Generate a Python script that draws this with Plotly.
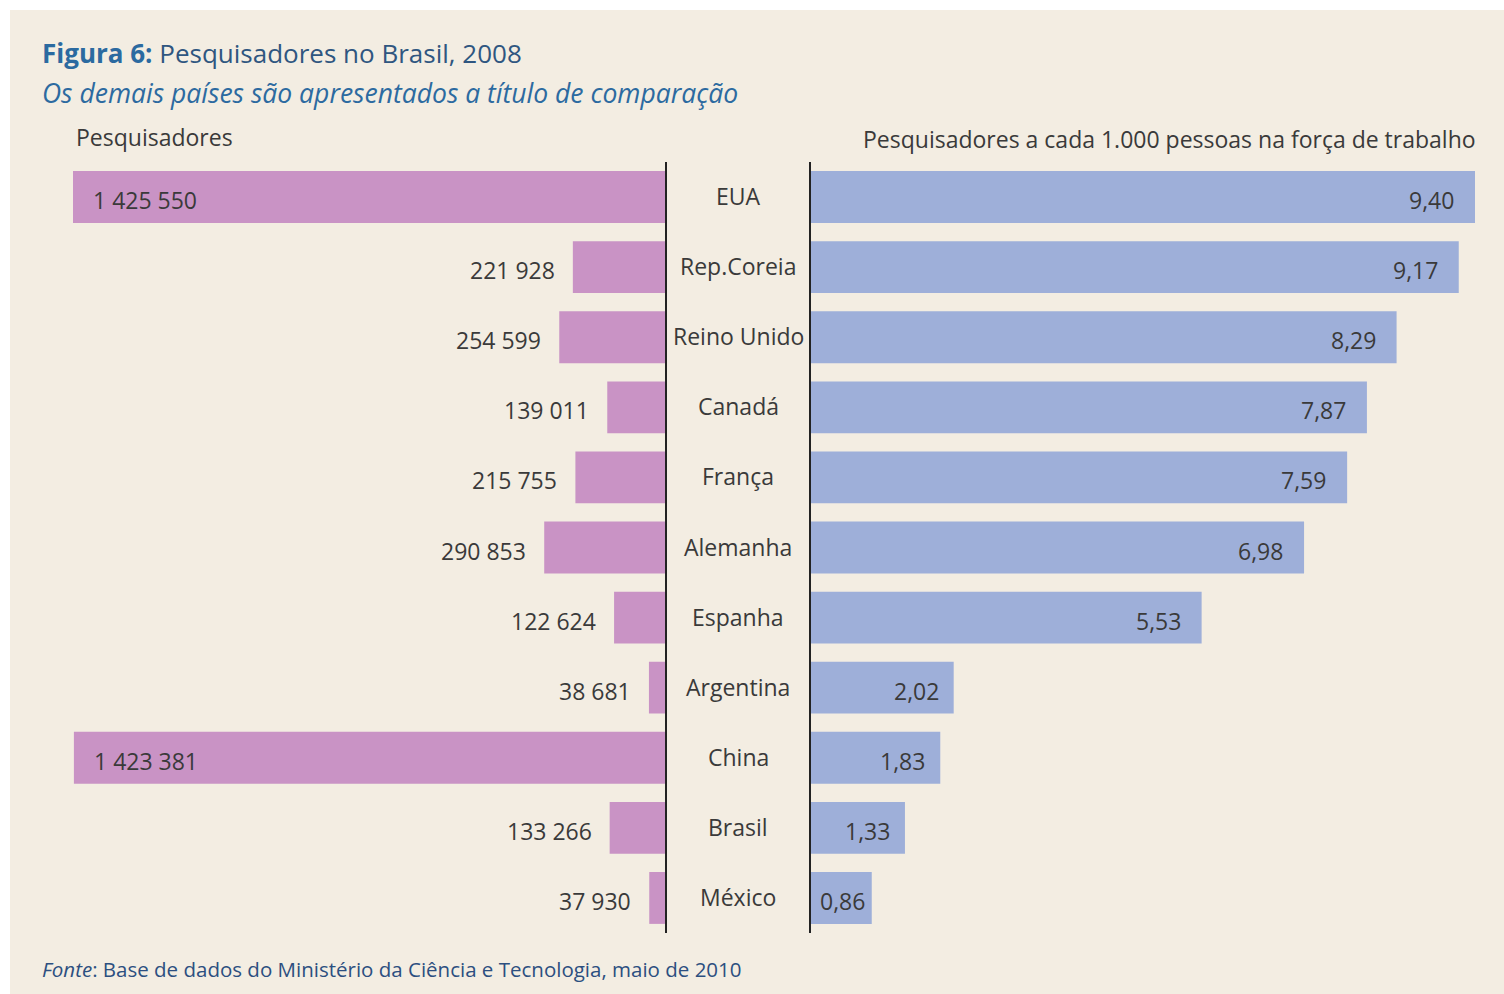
import plotly.graph_objects as go

countries = ["EUA", "Rep.Coreia", "Reino Unido", "Canadá", "França", "Alemanha",
             "Espanha", "Argentina", "China", "Brasil", "México"]
researchers = [1425550, 221928, 254599, 139011, 215755, 290853, 122624, 38681, 1423381, 133266, 37930]
researcher_labels = ["1 425 550", "221 928", "254 599", "139 011", "215 755", "290 853",
                     "122 624", "38 681", "1 423 381", "133 266", "37 930"]
per_thousand = [9.40, 9.17, 8.29, 7.87, 7.59, 6.98, 5.53, 2.02, 1.83, 1.33, 0.86]
per_thousand_labels = ["9,40", "9,17", "8,29", "7,87", "7,59", "6,98", "5,53", "2,02", "1,83", "1,33", "0,86"]

W, H = 1504, 994
FONT = "Open Sans"
TXT = "#3a3a3a"
PINK = "#c993c5"
BLUE = "#9eafd9"
BG = "#f3ede2"
NUM_SIZE = 23

fig = go.Figure()

fig.add_trace(go.Bar(
    y=countries, x=researchers, orientation="h", xaxis="x", yaxis="y",
    marker=dict(color=PINK, line=dict(width=0)),
    showlegend=False, hoverinfo="skip",
))
fig.add_trace(go.Bar(
    y=countries, x=per_thousand, orientation="h", xaxis="x2", yaxis="y2",
    marker=dict(color=BLUE, line=dict(width=0)),
    showlegend=False, hoverinfo="skip",
))

left_axis_px = 665
right_axis_px = 811
scale_l = (left_axis_px - 73) / researchers[0]
scale_r = (1475 - right_axis_px) / per_thousand[0]

ydom = [1 - 933 / H, 1 - 162 / H]

fig.update_layout(
    width=W, height=H,
    margin=dict(l=0, r=0, t=0, b=0),
    paper_bgcolor="white", plot_bgcolor="rgba(0,0,0,0)",
    bargap=0.26,
    font=dict(family=FONT, color=TXT),
    xaxis=dict(domain=[0, left_axis_px / W], range=[left_axis_px / scale_l, 0],
               visible=False, fixedrange=True),
    yaxis=dict(domain=ydom, autorange="reversed", side="right", showticklabels=False,
               ticks="", showline=True, linecolor="#222", linewidth=2, showgrid=False,
               zeroline=False),
    xaxis2=dict(domain=[right_axis_px / W, 1], range=[0, (W - right_axis_px) / scale_r],
                visible=False, fixedrange=True),
    yaxis2=dict(domain=ydom, autorange="reversed", anchor="x2", side="left",
                showticklabels=False, ticks="", showline=True, linecolor="#222",
                linewidth=2, showgrid=False, zeroline=False),
    shapes=[dict(type="rect", xref="paper", yref="paper", x0=10 / W, x1=1, y0=0,
                 y1=1 - 10 / H, fillcolor=BG, line=dict(width=0), layer="below")],
)

ann = []
for c in countries:
    ann.append(dict(x=738 / W, xref="paper", y=c, yref="y", text=c, showarrow=False,
                    xanchor="center", yanchor="middle", yshift=1,
                    font=dict(family=FONT, size=NUM_SIZE, color=TXT)))
# left value labels
for c, v, t in zip(countries, researchers, researcher_labels):
    big = v > 1_000_000
    ann.append(dict(x=v, xref="x", y=c, yref="y", text=t, showarrow=False,
                    xanchor="left" if big else "right", xshift=18 if big else -16,
                    yanchor="middle", yshift=-3,
                    font=dict(family=FONT, size=NUM_SIZE, color=TXT)))
# right value labels
for c, v, t in zip(countries, per_thousand, per_thousand_labels):
    pad = 19 if v > 5 else (13 if v > 1 else 5)
    ann.append(dict(x=v, xref="x2", y=c, yref="y2", text=t, showarrow=False,
                    xanchor="right", xshift=-pad, yanchor="middle", yshift=-3,
                    font=dict(family=FONT, size=NUM_SIZE, color=TXT)))
ann += [
    dict(x=40 / W, y=1 - 53 / H, xref="paper", yref="paper", xanchor="left", yanchor="middle",
         showarrow=False,
         text="<b><span style='color:#2b6aa0'>Figura 6:</span></b> Pesquisadores no Brasil, 2008",
         font=dict(family=FONT, size=26, color="#2f5680")),
    dict(x=40 / W, y=1 - 93 / H, xref="paper", yref="paper", xanchor="left", yanchor="middle",
         showarrow=False, text="<i>Os demais países são apresentados a título de comparação</i>",
         font=dict(family=FONT, size=26.5, color="#2c6aa0")),
    dict(x=74 / W, y=1 - 137 / H, xref="paper", yref="paper", xanchor="left", yanchor="middle",
         showarrow=False, text="Pesquisadores", font=dict(family=FONT, size=23, color=TXT)),
    dict(x=1478 / W, y=1 - 139 / H, xref="paper", yref="paper", xanchor="right", yanchor="middle",
         showarrow=False, text="Pesquisadores a cada 1.000 pessoas na força de trabalho",
         font=dict(family=FONT, size=23, color=TXT)),
    dict(x=40 / W, y=1 - 969 / H, xref="paper", yref="paper", xanchor="left", yanchor="middle",
         showarrow=False,
         text="<i>Fonte</i>: Base de dados do Ministério da Ciência e Tecnologia, maio de 2010",
         font=dict(family=FONT, size=20.5, color="#2c4f80")),
]
fig.update_layout(annotations=ann)

fig.write_html("out.html")
